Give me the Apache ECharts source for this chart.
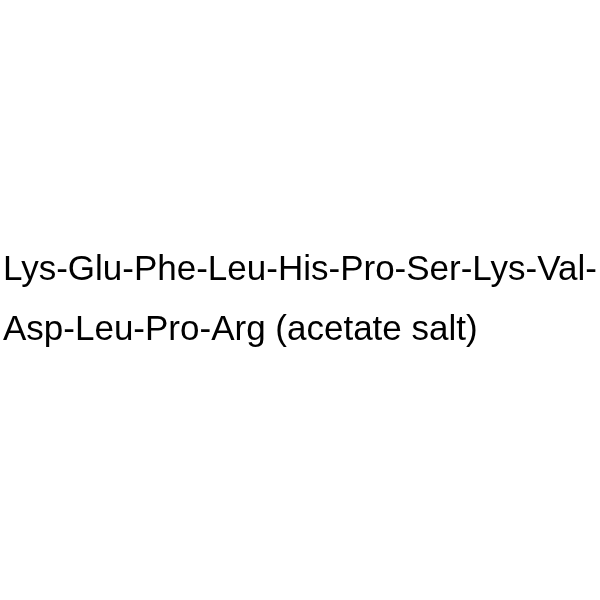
<!DOCTYPE html>
<html>
<head>
<meta charset="utf-8">
<script src="https://cdn.jsdelivr.net/npm/echarts@6/dist/echarts.min.js"></script>
<style>
  html, body { margin: 0; padding: 0; background: #fff; }
  #main { width: 600px; height: 600px; }
</style>
</head>
<body>
<div id="main"></div>
<script>
// name text, split in two lines like the picture
var nameLines = ['Lys-Glu-Phe-Leu-His-Pro-Ser-Lys-Val-', 'Asp-Leu-Pro-Arg (acetate salt)'];

var myChart = echarts.init(document.getElementById('main'));

var elements = [];
for (var i = 0; i < nameLines.length; i++) {
    elements.push({
        type: 'text',
        left: 3,
        top: 253 + i * 60,
        style: {
            text: nameLines[i],
            fill: '#000',
            font: '35px "Liberation Sans", Arial, sans-serif'
        }
    });
}

var option = {
    backgroundColor: '#fff',
    graphic: { elements: elements }
};
myChart.setOption(option);
</script>
</body>
</html>
